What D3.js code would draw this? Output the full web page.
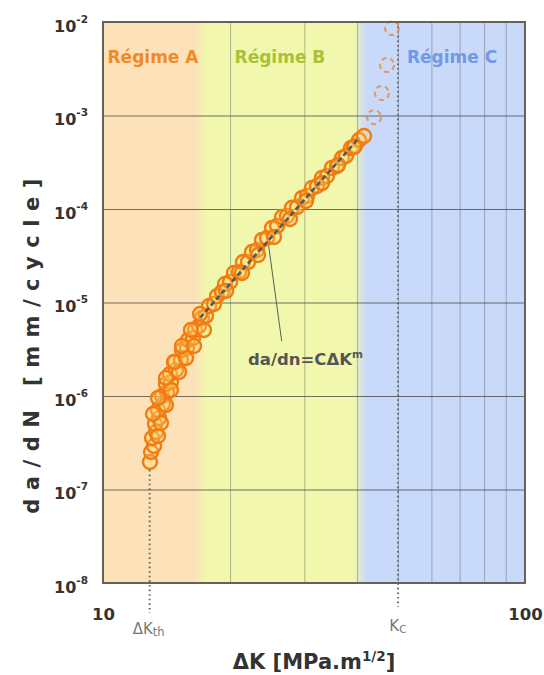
<!DOCTYPE html>
<html>
<head>
<meta charset="utf-8">
<script src="https://cdn.jsdelivr.net/npm/d3@7"></script>
<style>
  html, body { margin: 0; padding: 0; background: #fff; }
  svg { display: block; }
</style>
</head>
<body>
<svg id="chart" width="544" height="675"></svg>
<script>
// Fatigue crack growth: da/dN versus stress intensity range ΔK (log-log)

// Measured crack growth points (stable growth)
const deltaK = [12.92, 13.00, 13.21, 13.07, 13.36, 13.28, 13.58, 13.50, 13.88, 13.80,
  14.18, 14.10, 14.49, 14.41, 14.89, 14.81, 15.30, 15.39, 15.81, 15.90,
  16.34, 16.52, 16.89, 17.16, 17.54, 17.83, 18.32, 18.63, 19.14, 19.46,
  20.00, 20.44, 21.01, 21.47, 22.06, 22.55, 23.17, 23.81, 24.47, 25.15,
  25.85, 26.57, 27.29, 28.05, 28.83, 29.62, 30.44, 31.28, 32.14, 33.04,
  33.95, 34.88, 35.85, 36.84, 37.65, 38.70, 39.55, 40.43, 41.55,
  13.50, 13.72, 13.14, 14.10, 13.50, 14.49, 14.10, 15.14, 14.73, 15.73,
  15.39, 16.43, 16.16, 17.35, 16.98, 19.57, 21.35, 23.30, 25.42, 27.74,
  30.27, 33.04, 36.05, 39.34];
const growthRate = [1.97e-7, 2.52e-7, 2.92e-7, 3.56e-7, 4.12e-7, 5.02e-7, 5.82e-7, 7.08e-7, 8.21e-7, 1.00e-6,
  1.10e-6, 1.34e-6, 1.41e-6, 1.72e-6, 1.90e-6, 2.31e-6, 2.43e-6, 3.10e-6, 3.26e-6, 3.97e-6,
  4.17e-6, 5.08e-6, 5.61e-6, 6.83e-6, 7.18e-6, 9.18e-6, 9.64e-6, 1.17e-5, 1.30e-5, 1.58e-5,
  1.66e-5, 2.07e-5, 2.12e-5, 2.71e-5, 2.71e-5, 3.47e-5, 3.64e-5, 4.66e-5, 4.90e-5, 6.26e-5,
  6.58e-5, 8.21e-5, 8.41e-5, 1.03e-4, 1.05e-4, 1.31e-4, 1.38e-4, 1.68e-4, 1.76e-4, 2.15e-4,
  2.25e-4, 2.75e-4, 2.88e-4, 3.51e-4, 3.69e-4, 4.49e-4, 4.72e-4, 5.47e-4, 6.04e-4,
  3.73e-7, 5.14e-7, 6.41e-7, 8.01e-7, 9.52e-7, 1.16e-6, 1.56e-6, 1.81e-6, 2.31e-6, 2.55e-6,
  3.43e-6, 3.43e-6, 5.08e-6, 5.08e-6, 7.54e-6, 1.33e-5, 2.07e-5, 3.22e-5, 5.02e-5, 7.82e-5,
  1.22e-4, 1.90e-4, 2.96e-4, 4.61e-4];

// Unstable (final fracture) points
const unstableK = [43.9, 45.8, 47.1, 48.4];
const unstableRate = [9.6e-4, 1.74e-3, 3.47e-3, 8.6e-3];

// Paris law segment (regime B)
const fitK = [17.0, 40.5];
const fitRate = [6.9e-6, 5.8e-4];

// Regimes along ΔK: names, limits and where each name sits
const regimeNames = ["Régime A", "Régime B", "Régime C"];
const regimeBounds = [10, 17, 40.6, 100];
const regimeLabelK = [10.25, 20.5, 52.5];

const thresholdK = 12.9;   // ΔKth
const criticalK = 50;      // Kc

const xTickValues = [10, 100];
const xGridValues = [20, 30, 40, 50, 60, 70, 80, 90];
const yTickExponents = [-8, -7, -6, -5, -4, -3, -2];

const W = 544, H = 675;
const margin = { top: 22, right: 19, bottom: 92, left: 103 };
const iw = W - margin.left - margin.right;
const ih = H - margin.top - margin.bottom;

const svg = d3.select("#chart");
const g = svg.append("g").attr("transform", `translate(${margin.left},${margin.top})`);

const x = d3.scaleLog().domain([10, 100]).range([0, iw]);
const y = d3.scaleLog().domain([1e-8, 1e-2]).range([ih, 0]);

const font = "'DejaVu Sans', Verdana, sans-serif";
const regimeFill = ["#fde1b8", "#f1f7ad", "#c9d9f9"];
const regimeText = ["#f08a28", "#a9c13a", "#719ae6"];

// Soft-edged regime background
const grad = svg.append("defs").append("linearGradient")
  .attr("id", "regimes").attr("gradientUnits", "userSpaceOnUse")
  .attr("x1", 0).attr("x2", iw).attr("y1", 0).attr("y2", 0);
const blend = 6;
regimeNames.forEach((_, i) => {
  const a = x(regimeBounds[i]), b = x(regimeBounds[i + 1]);
  grad.append("stop").attr("offset", Math.max(0, a + (i ? blend : 0)) / iw).attr("stop-color", regimeFill[i]);
  grad.append("stop").attr("offset", Math.min(iw, b - (i < 2 ? blend : 0)) / iw).attr("stop-color", regimeFill[i]);
});
g.append("rect").attr("width", iw).attr("height", ih).attr("fill", "url(#regimes)");

// Vertical grid
const xGrid = g.append("g").attr("transform", `translate(0,${ih})`)
  .call(d3.axisBottom(x).tickValues(xGridValues).tickSize(-ih).tickFormat(""));
xGrid.select(".domain").remove();
xGrid.selectAll("line").attr("stroke", "rgba(70,80,70,0.38)").attr("stroke-width", 1);

// Horizontal grid (decades)
const yGrid = g.append("g")
  .call(d3.axisLeft(y).tickValues(yTickExponents.map(e => Math.pow(10, e))).tickSize(-iw).tickFormat(""));
yGrid.select(".domain").remove();
yGrid.selectAll("line").attr("stroke", "rgba(60,60,60,0.72)").attr("stroke-width", 1.2);

// Regime labels
g.selectAll(".regime").data(regimeNames).join("text")
  .attr("class", "regime")
  .attr("x", (d, i) => x(regimeLabelK[i]))
  .attr("y", 41)
  .attr("font-family", font).attr("font-weight", "bold").attr("font-size", 17)
  .attr("fill", (d, i) => regimeText[i])
  .text(d => d);

// Threshold and critical ΔK markers
g.append("line")
  .attr("x1", x(thresholdK)).attr("x2", x(thresholdK))
  .attr("y1", y(growthRate[0]) + 8).attr("y2", ih + 30)
  .attr("stroke", "#6a6a6a").attr("stroke-width", 2).attr("stroke-dasharray", "1.6,3");
g.append("line")
  .attr("x1", x(criticalK)).attr("x2", x(criticalK))
  .attr("y1", 0).attr("y2", ih + 24)
  .attr("stroke", "#5d6b80").attr("stroke-width", 2).attr("stroke-dasharray", "1.6,3");

// Measured points
const pts = deltaK.map((k, i) => ({ k, r: growthRate[i] }));
g.selectAll(".pt").data(pts).join("circle")
  .attr("class", "pt")
  .attr("cx", d => x(d.k)).attr("cy", d => y(d.r)).attr("r", 7)
  .attr("fill", "rgba(255,215,110,0.3)")
  .attr("stroke", "#f07c12").attr("stroke-width", 2.4);

// Paris law line
g.append("line")
  .attr("x1", x(fitK[0])).attr("y1", y(fitRate[0]))
  .attr("x2", x(fitK[1])).attr("y2", y(fitRate[1]))
  .attr("stroke", "#4f5a5e").attr("stroke-width", 2.6).attr("stroke-dasharray", "5,3");

// Unstable growth points
const upts = unstableK.map((k, i) => ({ k, r: unstableRate[i] }));
g.selectAll(".upt").data(upts).join("circle")
  .attr("class", "upt")
  .attr("cx", d => x(d.k)).attr("cy", d => y(d.r)).attr("r", 7)
  .attr("fill", "none")
  .attr("stroke", "#ec8a3a").attr("stroke-width", 2).attr("stroke-opacity", 0.85)
  .attr("stroke-dasharray", "5,4");

// Paris law annotation
const ann = { k: 24.7, r: 4.0e-5 };
g.append("line")
  .attr("x1", x(ann.k)).attr("y1", y(ann.r))
  .attr("x2", x(ann.k) + 13).attr("y2", y(ann.r) + 95)
  .attr("stroke", "#55605a").attr("stroke-width", 1);
const annText = g.append("text")
  .attr("x", 145).attr("y", 343)
  .attr("font-family", font).attr("font-weight", "bold").attr("font-size", 16.5)
  .attr("fill", "#555");
annText.append("tspan").text("da/dn=CΔK");
annText.append("tspan").attr("dy", -7).attr("font-size", 10.5).text("m");

// Plot frame
g.append("rect").attr("width", iw).attr("height", ih)
  .attr("fill", "none").attr("stroke", "#66615a").attr("stroke-width", 2);

// Y tick labels with powers of ten
const yAxis = g.append("g")
  .call(d3.axisLeft(y).tickValues(yTickExponents.map(e => Math.pow(10, e))).tickSize(0).tickFormat(""));
yAxis.select(".domain").remove();
yAxis.selectAll(".tick").each(function (d) {
  const t = d3.select(this).append("text")
    .attr("x", -15).attr("y", 9)
    .attr("text-anchor", "end")
    .attr("font-family", font).attr("font-weight", "bold").attr("font-size", 16)
    .attr("fill", "#333");
  t.append("tspan").text("10");
  t.append("tspan").attr("dy", -9).attr("font-size", 10.5).text(String(Math.round(Math.log10(d))));
});

// X tick labels
const xAxis = g.append("g").attr("transform", `translate(0,${ih})`)
  .call(d3.axisBottom(x).tickValues(xTickValues).tickSize(0).tickFormat(d3.format("d")));
xAxis.select(".domain").remove();
xAxis.selectAll("text")
  .attr("dy", 0).attr("y", 37)
  .attr("font-family", font).attr("font-weight", "bold").attr("font-size", 16.5)
  .attr("fill", "#333");

// ΔKth and Kc labels
const thLabel = g.append("text")
  .attr("x", x(thresholdK) - 1).attr("y", ih + 51)
  .attr("text-anchor", "middle")
  .attr("font-family", font).attr("font-size", 15).attr("fill", "#777");
thLabel.append("tspan").text("ΔK");
thLabel.append("tspan").attr("dy", 2).attr("font-size", 11.5).text("th");

const cLabel = g.append("text")
  .attr("x", x(criticalK)).attr("y", ih + 48)
  .attr("text-anchor", "middle")
  .attr("font-family", font).attr("font-size", 15).attr("fill", "#777");
cLabel.append("tspan").text("K");
cLabel.append("tspan").attr("dy", 2).attr("font-size", 10.5).text("C");

// Axis titles
const xt = svg.append("text")
  .attr("x", 314).attr("y", 669)
  .attr("text-anchor", "middle")
  .attr("font-family", font).attr("font-weight", "bold").attr("font-size", 21)
  .attr("fill", "#333");
xt.append("tspan").text("ΔK [MPa.m");
xt.append("tspan").attr("dy", -8).attr("font-size", 13.5).text("1/2");
xt.append("tspan").attr("dy", 8).text("]");

svg.append("text")
  .attr("transform", "translate(39,342) rotate(-90)")
  .attr("text-anchor", "middle")
  .attr("font-family", font).attr("font-weight", "bold").attr("font-size", 21)
  .attr("letter-spacing", 8.5)
  .attr("fill", "#333")
  .text("da/dN [mm/cycle]");
</script>
</body>
</html>
